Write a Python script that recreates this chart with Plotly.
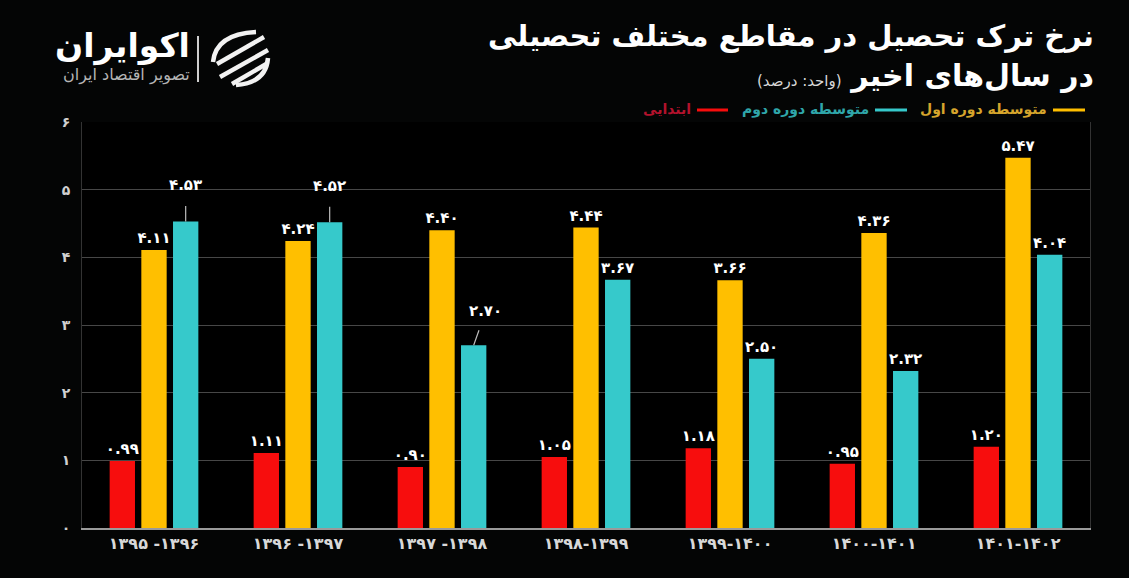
import plotly.graph_objects as go

# ---------------- data ----------------
categories = ["۱۳۹۵ -۱۳۹۶", "۱۳۹۶ -۱۳۹۷", "۱۳۹۷ -۱۳۹۸", "۱۳۹۸-۱۳۹۹",
              "۱۳۹۹-۱۴۰۰", "۱۴۰۰-۱۴۰۱", "۱۴۰۱-۱۴۰۲"]
primary = [0.99, 1.11, 0.90, 1.05, 1.18, 0.95, 1.20]
lower_secondary = [4.11, 4.24, 4.40, 4.44, 3.66, 4.36, 5.47]
upper_secondary = [4.53, 4.52, 2.70, 3.67, 2.50, 2.32, 4.04]
series_names = ["ابتدایی", "متوسطه دوره اول", "متوسطه دوره دوم"]
y_tick_values = [0, 1, 2, 3, 4, 5, 6]
y_tick_labels = ["۰", "۱", "۲", "۳", "۴", "۵", "۶"]
title_line1 = "نرخ ترک تحصیل در مقاطع مختلف تحصیلی"
title_line2 = "در سال‌های اخیر"
unit_text = "(واحد: درصد)"
logo_name = "اکوایران"
logo_sub = "تصویر اقتصاد ایران"

# ---------------- style ----------------
W, H = 1129, 578
L, R, T, B = 82, 1090, 122, 528
RED, YEL, CYA = "#f70d0d", "#ffbf00", "#36c9cb"
FONT = "DejaVu Sans"
BARGAP, GROUPGAP = 0.34, 0.2
LABEL_SIZE = 15

FA = str.maketrans("0123456789", "۰۱۲۳۴۵۶۷۸۹")


def fa(v):
    return f"{v:.2f}".translate(FA)


def px(x):
    return (x - L) / (R - L)


def py(y):
    return (B - y) / (B - T)


def pth(cmds):
    out = []
    for c in cmds:
        if isinstance(c, str):
            out.append(c)
        else:
            out.append(f"{px(c[0]):.5f},{py(c[1]):.5f}")
    return " ".join(out)


# labels that use leader lines (series index 2 = upper secondary)
leader = {0: (0, -36, 10), 1: (0, -36, 10), 2: (12, -34, 9)}

fig = go.Figure()
series = [primary, lower_secondary, upper_secondary]
colors = [RED, YEL, CYA]
for k, (vals, col, name) in enumerate(zip(series, colors, series_names)):
    texts = []
    for i, v in enumerate(vals):
        if k == 2 and i in leader:
            texts.append("")
        else:
            texts.append("<b>" + fa(v) + "</b>")
    fig.add_trace(go.Bar(
        x=categories, y=vals, name=name, marker=dict(color=col, line=dict(width=0)),
        text=texts, textposition="outside", cliponaxis=False, constraintext="none",
        outsidetextfont=dict(family=FONT, size=LABEL_SIZE, color="#ffffff"),
        hoverinfo="skip", showlegend=False,
    ))

slot = (R - L) / len(categories) * (1 - BARGAP) / 3
annotations = []
for i, (ax_, ay_, sso) in leader.items():
    annotations.append(dict(
        x=categories[i], y=upper_secondary[i], xref="x", yref="y", xshift=slot,
        text="<b>" + fa(upper_secondary[i]) + "</b>", showarrow=True, arrowhead=0,
        arrowwidth=1.2, arrowcolor="#bdbdbd", ax=ax_, ay=ay_, standoff=0,
        startstandoff=sso, font=dict(family=FONT, size=LABEL_SIZE, color="#ffffff"),
    ))

# title
annotations.append(dict(
    x=px(1096), y=py(36), xref="paper", yref="paper", xanchor="right", yanchor="middle",
    text="<b>" + title_line1 + "</b>", showarrow=False,
    font=dict(family=FONT, size=29, color="#ffffff"),
))
annotations.append(dict(
    x=px(1096), y=py(75), xref="paper", yref="paper", xanchor="right", yanchor="middle",
    text="\u200f<b>" + title_line2 + "</b> <span style='font-size:15px;color:#d8d8d8'>"
         + unit_text + "</span>\u200f",
    showarrow=False, font=dict(family=FONT, size=30, color="#ffffff"),
))

# custom legend (RTL: line to the right of text)
legend_items = [
    (series_names[1], YEL, "#d6a52c", 1053, 1085),
    (series_names[2], CYA, "#2fa6aa", 875, 907),
    (series_names[0], RED, "#b3122c", 697, 728),
]
shapes = []
for name, col, tcol, x0, x1 in legend_items:
    shapes.append(dict(type="line", xref="paper", yref="paper", x0=px(x0), x1=px(x1),
                       y0=py(110), y1=py(110), line=dict(color=col, width=3)))
    annotations.append(dict(
        x=px(x0 - 4), y=py(109), xref="paper", yref="paper", xanchor="right",
        yanchor="middle", text="<b>" + name + "</b>", showarrow=False,
        font=dict(family=FONT, size=14, color=tcol),
    ))

# logo
annotations.append(dict(
    x=px(192), y=py(46), xref="paper", yref="paper", xanchor="right", yanchor="middle",
    text="<b>" + logo_name + "</b>", showarrow=False,
    font=dict(family=FONT, size=33, color="#ffffff"),
))
annotations.append(dict(
    x=px(192), y=py(75), xref="paper", yref="paper", xanchor="right", yanchor="middle",
    text=logo_sub, showarrow=False, font=dict(family=FONT, size=16, color="#b5b5b5"),
))
shapes.append(dict(type="line", xref="paper", yref="paper", x0=px(198), x1=px(198),
                   y0=py(36), y1=py(82), line=dict(color="#cfcfcf", width=2)))
icon_paths = [
    ["M", (256, 32), "Q", (216, 34), (213, 62)],
    ["M", (217, 64), "L", (264, 37)],
    ["M", (220, 77), "L", (268, 50)],
    ["M", (232, 84), "L", (268, 63)],
    ["M", (268, 58), "Q", (266, 83), (236, 85)],
]
for p in icon_paths:
    shapes.append(dict(type="path", xref="paper", yref="paper", path=pth(p),
                       line=dict(color="#f2f2f2", width=4.5)))

fig.update_layout(
    width=W, height=H,
    margin=dict(l=L, r=W - R, t=T, b=H - B, pad=0),
    paper_bgcolor="#040505", plot_bgcolor="#000000",
    barmode="group", bargap=BARGAP, bargroupgap=GROUPGAP,
    annotations=annotations, shapes=shapes,
    font=dict(family=FONT, color="#d0d0d0"),
    xaxis=dict(
        type="category", showgrid=False, showline=True, linecolor="#9a9a9a", linewidth=2,
        ticks="", tickfont=dict(family=FONT, size=16, color="#d8d8d8"),
        tickprefix="<b>", ticksuffix="</b>", zeroline=False,
    ),
    yaxis=dict(
        range=[0, 6], tickvals=y_tick_values, ticktext=["<b>" + t + "</b>" for t in y_tick_labels],
        showgrid=True, gridcolor="#474747", gridwidth=1, zeroline=False,
        showline=True, linecolor="#333333", mirror=True, ticks="",
        tickfont=dict(family=FONT, size=14, color="#d0d0d0"), ticklabelstandoff=8,
    ),
)

fig.write_html("out.html")
